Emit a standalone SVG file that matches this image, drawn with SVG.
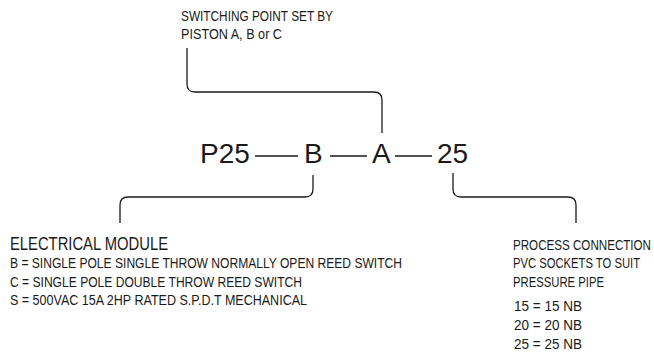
<svg xmlns="http://www.w3.org/2000/svg" width="654" height="356" viewBox="0 0 654 356">
<style>
.t{font-family:"Liberation Sans",Arial,sans-serif;font-size:14px;fill:#1a1a1a}
.h{font-size:18px}
.code{font-family:"Liberation Sans",Arial,sans-serif;font-size:28px;fill:#1a1a1a}
.c{fill:none;stroke:#1a1a1a;stroke-width:1.3}
</style>
<rect width="654" height="356" fill="#fff"/>
<g id="connectors">
<path class="c" d="M187,48 V84 Q187,92 195,92 H374 Q382,92 382,100 V133"/>
<path class="c" d="M313,175 V189 Q313,197 305,197 H128 Q120,197 120,205 V223"/>
<path class="c" d="M453,173 V189 Q453,197 461,197 H568 Q576,197 576,205 V223"/>
</g>
<g id="code">
<text class="code" x="200" y="163">P25</text>
<line class="c" x1="255" y1="156" x2="298" y2="156"/>
<text class="code" x="304" y="163">B</text>
<line class="c" x1="330" y1="156" x2="367" y2="156"/>
<text class="code" x="372" y="163">A</text>
<line class="c" x1="395" y1="156" x2="432" y2="156"/>
<text class="code" x="437" y="163">25</text>
</g>
<g id="switching-point">
<text class="t" x="181" y="21" textLength="152" lengthAdjust="spacingAndGlyphs">SWITCHING POINT SET BY</text>
<text class="t" x="181" y="39" textLength="101" lengthAdjust="spacingAndGlyphs">PISTON A, B or C</text>
</g>
<g id="electrical-module">
<text class="t h" x="10" y="250" textLength="158" lengthAdjust="spacingAndGlyphs">ELECTRICAL MODULE</text>
<text class="t" x="10" y="268" textLength="392" lengthAdjust="spacingAndGlyphs">B = SINGLE POLE SINGLE THROW NORMALLY OPEN REED SWITCH</text>
<text class="t" x="10" y="287" textLength="292" lengthAdjust="spacingAndGlyphs">C = SINGLE POLE DOUBLE THROW REED SWITCH</text>
<text class="t" x="10" y="305" textLength="297" lengthAdjust="spacingAndGlyphs">S = 500VAC 15A 2HP RATED S.P.D.T MECHANICAL</text>
</g>
<g id="process-connection">
<text class="t" x="513" y="250" textLength="138" lengthAdjust="spacingAndGlyphs">PROCESS CONNECTION</text>
<text class="t" x="513" y="268" textLength="127" lengthAdjust="spacingAndGlyphs">PVC SOCKETS TO SUIT</text>
<text class="t" x="513" y="287" textLength="91" lengthAdjust="spacingAndGlyphs">PRESSURE PIPE</text>
<text class="t" x="514" y="311" textLength="68" lengthAdjust="spacingAndGlyphs">15 = 15 NB</text>
<text class="t" x="514" y="330" textLength="68" lengthAdjust="spacingAndGlyphs">20 = 20 NB</text>
<text class="t" x="514" y="349" textLength="68" lengthAdjust="spacingAndGlyphs">25 = 25 NB</text>
</g>
</svg>
